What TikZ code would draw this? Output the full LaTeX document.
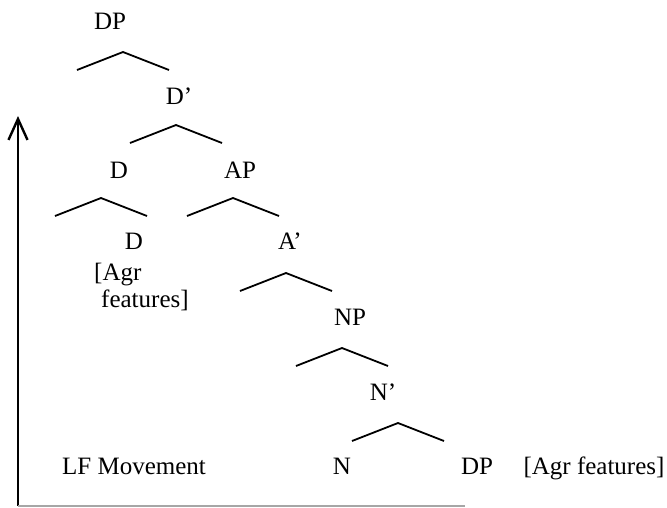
\documentclass[tikz,border=0pt]{standalone}
\usepackage{fontspec}
\setmainfont{Liberation Serif}
\usetikzlibrary{arrows.meta}

\begin{document}
\begin{tikzpicture}[
            x=1pt, y=-1pt,
            every node/.style={font=\fontsize{25}{28}\selectfont, anchor=base, inner sep=0pt},
            branch/.style={line width=1.8pt},
            movearrow/.style={line width=2.4pt, -{Straight Barb[length=21pt, width=19pt]}}]
        \useasboundingbox (0,0) rectangle (667,507);
        % labels
        \node (dp)     at (110,29)  {DP};
        \node (dbar)   at (179,104) {D'};
        \node (d)      at (119,178) {D};
        \node (ap)     at (240,178) {AP};
        \node (dlow)   at (134,249) {D};
        \node (abar)   at (290,249) {A'};
        \node (agr)    at (94,280)  [anchor=base west] {[Agr};
        \node (feat)   at (101,307) [anchor=base west] {features]};
        \node (np)     at (350,325) {NP};
        \node (nbar)   at (383,400) {N'};
        \node (n)      at (342,474) {N};
        \node (dplow)  at (477,474) {DP};
        \node (agrfeat) at (594,474) {[Agr features]};
        \node (lf)     at (134,474) {LF Movement};
        % branch tops
        \coordinate (b1) at (123,52);
        \coordinate (b2) at (176,125);
        \coordinate (b3) at (101,198);
        \coordinate (b4) at (233,198);
        \coordinate (b5) at (286,273);
        \coordinate (b6) at (342,348);
        \coordinate (b7) at (398,423);
        \foreach \b in {b1,b2,b3,b4,b5,b6,b7}
            \draw[branch] (\b) +(-46,18) -- (\b) -- +(46,18);
        % movement arrow
        \coordinate (start) at (18,506);
        \coordinate (end)   at (18,116);
        \coordinate (floor) at (465,506);
        \draw[movearrow] (start) -- (end);
        \draw[gray!70, line width=1.4pt] (start) -- (floor);
\end{tikzpicture}
\end{document}
